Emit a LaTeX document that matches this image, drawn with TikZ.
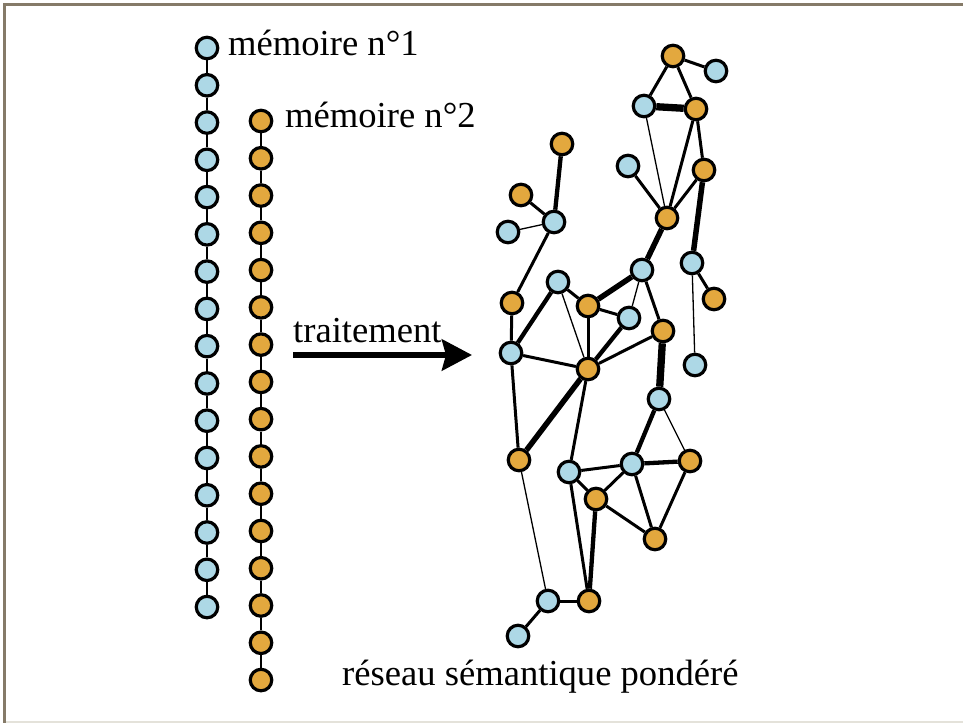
\documentclass[tikz,border=0pt]{standalone}
\usepackage{fontspec}
\setmainfont{Liberation Serif}
\usepackage{xcolor}
\usepackage{tikz}
\usetikzlibrary{arrows.meta}

\definecolor{bleunoeud}{HTML}{ADD8E6}
\definecolor{orangenoeud}{HTML}{E3A83E}
\definecolor{cadre}{HTML}{857A68}
\definecolor{cadreclair}{HTML}{E4E2DA}

\tikzset{
	noeud/.style={circle,draw=black,line width=3.2bp,minimum size=21.5bp,inner sep=0pt},
	noeudbleu/.style={noeud,fill=bleunoeud},
	noeudorange/.style={noeud,fill=orangenoeud},
	chaine/.style={line width=1.6bp},
	lienfin/.style={line width=1.3bp},
	lienmoyen/.style={line width=3bp},
	lienepais/.style={line width=4.3bp},
	lientresepais/.style={line width=5.5bp},
	lienenorme/.style={line width=7.3bp},
	texte/.style={inner sep=0pt,anchor=base west,font=\fontsize{36.6bp}{40bp}\selectfont},
	fleche/.style={line width=6bp,-{Stealth[length=30bp,width=31bp,inset=4bp]}}
}

\begin{document}
\begin{tikzpicture}[x=1bp,y=-1bp]
	\useasboundingbox (0,0) rectangle (963,723);
	% cadre
	\draw[cadreclair,line width=2bp] (6,722) -- (963,722);
	\draw[cadre,line width=3bp] (4.5,723) -- (4.5,4.5) -- (963,4.5);

	% les deux memoires
	\foreach \i in {1,...,16}
	\node[noeudbleu] (a\i) at (207,{48+37.27*(\i-1)}) {};
	\foreach \i in {1,...,16}
	\node[noeudorange] (b\i) at (261,{121+37.27*(\i-1)}) {};
	\foreach \i [evaluate=\i as \j using int(\i+1)] in {1,...,15}
	{
	\draw[chaine] (a\i) -- (a\j);
	\draw[chaine] (b\i) -- (b\j);
	}
	\node[texte] (memoire1) at (228,56) {mémoire n°1};
	\node[texte] (memoire2) at (285,128) {mémoire n°2};

	% traitement
	\coordinate (depart) at (293,355);
	\coordinate (arrivee) at (472,355);
	\draw[fleche] (depart) -- (arrivee);
	\node[texte] (traitement) at (293,342) {traitement};

	% reseau
	\foreach \n/\x/\y in {r2/716/71,r3/644/106,r5/628/166,r10/554/222,r11/508/232,
		r12/642/270,r13/692/263,r15/558/282,r18/629/318,r20/511/353,r22/695/365,
		r23/659/399,r25/569/472,r26/632/464,r30/548/601,r32/518/636}
	\node[noeudbleu] (\n) at (\x,\y) {};
	\foreach \n/\x/\y in {r1/673/56,r4/696/109,r6/704/170,r7/667/218,r8/562/144,
		r9/521/195,r14/714/299,r16/512/303,r17/588/306,r19/663/331,r21/588/369,
		r24/519/460,r27/690/461,r28/596/499,r29/655/539,r31/589/601}
	\node[noeudorange] (\n) at (\x,\y) {};

	\foreach \a/\b in {r3/r7,r11/r10,r12/r18,r13/r22,r15/r21,r23/r27,r24/r30}
	\draw[lienfin] (\a) -- (\b);
	\foreach \a/\b in {r1/r2,r1/r3,r1/r4,r4/r7,r4/r6,r5/r7,r6/r7,r9/r10,r10/r16,
		r12/r19,r13/r14,r15/r17,r16/r20,r17/r18,r17/r21,r19/r21,r20/r21,r20/r24,
		r21/r25,r25/r26,r25/r28,r25/r31,r26/r28,r26/r29,r27/r29,r28/r29,r30/r31,r30/r32}
	\draw[lienmoyen] (\a) -- (\b);
	\foreach \a/\b in {r8/r10,r15/r20,r18/r21,r23/r26,r28/r31,r26/r27}
	\draw[lienepais] (\a) -- (\b);
	\foreach \a/\b in {r12/r17,r6/r13,r7/r12,r21/r24}
	\draw[lientresepais] (\a) -- (\b);
	\foreach \a/\b in {r3/r4,r19/r23}
	\draw[lienenorme] (\a) -- (\b);

	\node[texte] (legende) at (342,685) {réseau sémantique pondéré};
\end{tikzpicture}
\end{document}
